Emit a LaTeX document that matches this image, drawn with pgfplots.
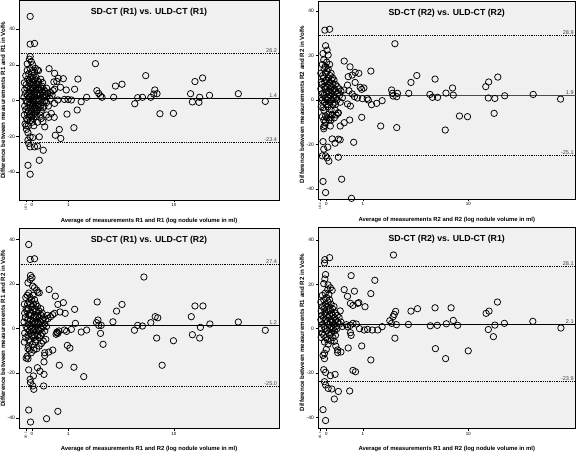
\documentclass[border=0pt]{standalone}
\usepackage{pgfplots}
\pgfplotsset{compat=1.18}
\usepackage{graphicx}
\usepackage{fontspec}
\setmainfont{Liberation Sans}
\definecolor{bgc}{HTML}{F0F0F0}
\definecolor{lblc}{HTML}{404040}
\pgfplotsset{
 ba/.style={
  scale only axis,
  axis background/.style={fill=bgc},
  axis line style={line width=0.8bp, black},
  tick style={line width=0.5bp, black},
  tick align=outside,
  major tick length=2.5bp,
  tick pos=left,
  xtick={-0.17,0,1,3.895},
  xticklabels={\rotatebox{90}{\fontsize{3.2}{4}\selectfont 1E-1},0,1,10},
  ytick={-40,-20,0,20,40},
  yticklabels={-40,-20,0,20,40},
  xticklabel style={font=\fontsize{4.5}{5}\selectfont, inner sep=1bp, anchor=north},
  yticklabel style={font=\fontsize{5}{6}\selectfont, inner sep=1.5bp},
  every axis x label/.style={at={(axis description cs:0.5,0)}, anchor=center, yshift=-21bp, font=\bfseries\fontsize{5.9}{7}\selectfont},
  every axis y label/.style={at={(axis description cs:0,0.5)}, anchor=center, xshift=-16bp, rotate=90, font=\bfseries\fontsize{6.2}{7}\selectfont},
  every axis title/.style={at={(axis description cs:0.5,1)}, anchor=center, yshift=-12bp, font=\bfseries\fontsize{8.8}{10}\selectfont, inner sep=0pt},
 },
 mk/.style={only marks, mark=o, mark size=3.2bp, mark options={line width=0.75bp, black}},
 loa/.style={black, line width=0.8bp, densely dotted, no marks},
 mean/.style={black, line width=1bp, no marks},
}
\newcommand{\lbl}[3]{\node[anchor=south east, font=\fontsize{5.5}{6}\selectfont, text=lblc, inner sep=0.6bp] at (axis cs:#1,#2) {#3};}
\begin{document}
\begin{tikzpicture}[x=1bp,y=1bp]
\path[use as bounding box] (0bp,0bp) rectangle (576bp,454bp);
% ---------------- Panel 1 ----------------
\begin{axis}[ba, at={(19bp,254bp)}, anchor=south west, width=260bp, height=199.5bp,
  xmin=-0.356, xmax=6.776, ymin=-55.5, ymax=56,
  title={SD-CT (R1) vs. ULD-CT (R1)},
  xlabel={Average of measurements R1 and R1 (log nodule volume in ml)},
  ylabel={Difference between measurements R1 and R1 in Vol\%}]
\addplot[loa] coordinates {(-1,26.2)(8,26.2)};
\addplot[mean] coordinates {(-1,1.4)(8,1.4)};
\addplot[loa] coordinates {(-1,-23.4)(8,-23.4)};
\addplot[mk] coordinates {
(-0.21,10)(-0.20,6)(-0.22,2)(-0.20,-3)(-0.21,-8)(-0.19,-13)
(-0.17,14)(-0.16,9)(-0.18,4)(-0.16,0)(-0.17,-5)(-0.15,-10)(-0.16,-14)
(-0.13,17)(-0.12,12)(-0.14,7)(-0.12,3)(-0.13,-1)(-0.11,-4)(-0.13,-7)(-0.12,-11)
(-0.09,15)(-0.08,11)(-0.10,8)(-0.08,5)(-0.09,1)(-0.07,-2)(-0.09,-6)(-0.08,-9)(-0.10,-14)
(-0.05,18)(-0.04,13)(-0.06,10)(-0.04,7)(-0.05,4)(-0.03,2)(-0.05,-1)(-0.04,-4)(-0.06,-8)(-0.04,-11)
(-0.01,16)(0.00,12)(-0.02,9)(0.01,6)(-0.01,3)(0.00,0)(0.01,-3)(-0.01,-6)(0.00,-9)(0.01,-12)
(0.03,14)(0.04,10)(0.03,7)(0.05,4)(0.03,1)(0.04,-2)(0.05,-5)(0.03,-8)(0.04,-10)
(0.07,16)(0.08,12)(0.07,8)(0.09,5)(0.08,2)(0.07,-1)(0.09,-4)(0.08,-7)
(0.11,13)(0.12,9)(0.11,6)(0.13,3)(0.12,0)(0.11,-3)(0.13,-6)(0.12,-9)
(0.15,11)(0.16,7)(0.15,4)(0.17,1)(0.16,-2)(0.15,-5)
(0.19,9)(0.20,6)(0.21,3)(0.19,0)(0.20,-4)(0.22,-8)
(0.24,12)(0.25,7)(0.23,4)(0.26,1)(0.24,-3)(0.25,-6)
(0.28,8)(0.29,5)(0.30,2)(0.28,-1)(0.31,-4)
(0.33,6)(0.34,3)(0.35,0)(0.33,-3)
(0.38,5)(0.39,2)(0.40,-1)(0.42,4)
(-0.05,47.1)(-0.05,31.6)(0.07,32.0)(-0.05,24.7)(-0.07,23.2)(-0.02,21.9)(-0.13,20.6)(0.02,20.0)(0.09,18.1)(0.15,17.2)(0.18,16.8)
(0.47,17.9)(0.62,15.3)(0.72,12.5)(0.86,12.3)(0.68,10.8)(0.60,10.5)(1.26,12.1)(1.74,20.7)(0.29,10.1)(0.18,10.7)
(0.78,7.5)(0.94,6.0)(1.17,6.4)(0.62,6.4)(0.58,5.6)(0.51,4.5)(0.44,4.1)
(1.78,5.6)(1.83,4.1)(1.88,2.6)(1.92,1.9)(2.24,1.9)(1.50,1.9)(1.35,-0.6)(1.24,-5.2)(1.15,-15.1)(0.96,-7.5)(0.75,-16.1)(0.79,-21.1)(0.64,-19.3)(0.61,-9.3)(0.35,-14.6)(0.30,-11.8)(0.46,-9.3)(0.53,-7.1)(0.62,-1.5)(0.71,0.4)(0.89,0.7)(0.99,0.7)(1.08,0.4)
(-0.11,-17.9)(-0.05,-20.2)(-0.11,-22.0)(-0.09,-23.9)(0.02,-20.6)(0.20,-20.2)(0.07,-25.8)(-0.05,-25.8)(0.15,-25.4)(0.31,-27.7)(0.20,-33.3)(-0.11,-36.1)(-0.05,-41.1)
(0.25,-10)(0.15,-12)(-0.15,-16)(0.05,-14)(0.40,-8)(0.45,-3)(0.50,1)(0.55,3)(0.40,7)
(2.29,8.2)(2.47,9.2)(2.82,-1.7)(2.90,1.7)(3.03,1.9)(3.12,14.0)(3.26,1.9)(3.37,6.0)(3.34,3.7)(3.43,3.9)(3.51,-7.3)(3.88,-7.1)
(4.35,3.9)(4.40,-0.7)(4.47,10.7)(4.58,-0.9)(4.60,1.9)(4.68,12.7)(4.87,3.0)(5.66,3.9)(6.40,-0.4)
};
\lbl{6.74}{26.2}{26.2}
\lbl{6.74}{1.4}{1.4}
\lbl{6.74}{-23.4}{-23.4}
\end{axis}
% ---------------- Panel 2 ----------------
\begin{axis}[ba, at={(318bp,255bp)}, anchor=south west, width=257.5bp, height=198bp,
  xmin=-0.228, xmax=6.83, ymin=-44.5, ymax=44.5,
  every axis y label/.append style={xshift=-4.5bp},
  title={SD-CT (R2) vs. ULD-CT (R2)},
  xlabel={Average of measurements R2 and R2 (log nodule volume in ml)},
  ylabel={Difference between measurements R2 and R2 in Vol\%}]
\addplot[loa] coordinates {(-1,28.9)(8,28.9)};
\addplot[mean, black!70] coordinates {(-1,1.9)(8,1.9)};
\addplot[loa] coordinates {(-1,-25.1)(8,-25.1)};
\addplot[mk] coordinates {
(-0.15,12)(-0.14,8)(-0.15,5)(-0.13,1)(-0.14,-3)
(-0.11,16)(-0.10,11)(-0.12,7)(-0.10,3)(-0.11,0)
(-0.07,18)(-0.06,14)(-0.08,10)(-0.06,6)(-0.07,2)(-0.05,-1)(-0.07,-9)
(-0.03,15)(-0.02,12)(-0.04,8)(-0.02,5)(-0.03,1)(-0.01,-2)(-0.03,-10)
(0.01,17)(0.02,13)(0.00,9)(0.02,6)(0.01,3)(0.03,0)(0.02,-8)
(0.05,14)(0.06,10)(0.05,7)(0.07,4)(0.06,1)(0.05,-2)(0.07,-9)
(0.09,16)(0.10,11)(0.09,8)(0.11,5)(0.10,2)(0.09,-1)(0.10,-8)
(0.13,12)(0.14,9)(0.13,6)(0.15,3)(0.14,0)(0.13,-9)
(0.17,10)(0.18,7)(0.17,4)(0.19,1)(0.18,-2)
(0.21,9)(0.22,5)(0.21,2)(0.23,-1)(0.22,-8)
(0.25,7)(0.26,4)(0.27,1)(0.25,-2)
(0.30,6)(0.31,3)(0.29,0)(0.32,-6)
(0.35,5)(0.36,2)(0.38,-1)(0.40,4)(0.44,1)
(-0.04,31.4)(0.09,31.8)(-0.02,24.4)(0.02,22.4)(-0.09,20.9)(0.05,20.2)(0.49,17.5)(1.22,13.0)(1.88,25.3)
(0.65,14.9)(0.79,12.4)(0.89,12.0)(0.71,11.2)(0.60,10.5)(0.79,7.9)(1.03,5.4)(0.93,5.7)(0.97,4.8)(0.58,6.7)(0.48,4.5)(0.62,4.2)
(0.71,2.7)(0.77,1.5)(0.85,0.9)(0.99,0.6)(1.12,0.7)(1.15,0.0)(1.24,-2.1)(1.38,-1.5)(1.53,-0.3)
(1.81,3.0)(1.79,4.5)(1.83,1.8)(1.93,1.5)(1.95,3.0)
(-0.09,-3.4)(-0.07,-4.5)(-0.11,-7.5)(-0.02,-7.2)(0.07,-6.3)(0.16,-6.7)(0.27,-6.7)(0.33,-5.7)(0.24,-4.5)(0.13,-4.5)(0.05,-3.0)
(0.38,-11.7)(0.49,-10.2)(0.64,-9.0)(0.97,-7.8)(0.66,-2.7)(0.58,-1.8)(-0.07,-12.0)(-0.04,-11.4)(-0.07,-12.9)(0.11,-11.7)
(1.49,-11.7)(1.93,-12.4)(0.16,-17.5)(0.33,-17.6)(0.38,-17.9)(0.24,-19.4)(0.04,-21.2)(-0.09,-18.7)(0.75,-19.0)(-0.07,-22.1)
(-0.02,-25.1)(-0.11,-25.1)(0.02,-26.0)(0.07,-27.5)(0.33,-25.7)(-0.09,-36.6)(0.42,-35.6)(-0.02,-41.6)(0.69,-44.2)
(2.26,3.0)(2.32,7.9)(2.48,11.0)(2.84,2.5)(2.91,1.2)(2.98,9.4)(3.05,1.2)(3.28,3.1)(3.26,-13.5)(3.46,5.4)(3.48,2.2)(3.65,-7.2)(3.87,-7.5)
(4.37,6.0)(4.45,8.1)(4.44,0.9)(4.62,0.7)(4.60,-6.0)(4.70,10.3)(4.89,1.9)(5.67,2.5)(6.42,0.4)
};
\lbl{6.80}{28.9}{28.9}
\lbl{6.80}{1.9}{1.9}
\lbl{6.80}{-25.1}{-25.1}
\end{axis}
% ---------------- Panel 3 ----------------
\begin{axis}[ba, at={(19bp,25.5bp)}, anchor=south west, width=260bp, height=200.5bp,
  xmin=-0.356, xmax=6.776, ymin=-44.8, ymax=45.2,
  every axis x label/.append style={yshift=1bp},
  title={SD-CT (R1) vs. ULD-CT (R2)},
  xlabel={Average of measurements R1 and R2 (log nodule volume in ml)},
  ylabel={Difference between measurements R1 and R2 in Vol\%}]
\addplot[loa] coordinates {(-1,29.0)(8,29.0)};
\addplot[mean] coordinates {(-1,1.6)(8,1.6)};
\addplot[loa] coordinates {(-1,-25.8)(8,-25.8)};
\addplot[mk] coordinates {
(-0.21,11)(-0.20,7)(-0.22,3)(-0.20,-2)(-0.21,-6)
(-0.17,14)(-0.16,9)(-0.18,5)(-0.16,1)(-0.17,-4)
(-0.13,15)(-0.12,11)(-0.14,8)(-0.12,4)(-0.13,0)(-0.11,-3)
(-0.09,16)(-0.08,12)(-0.10,9)(-0.08,6)(-0.09,2)(-0.07,-1)(-0.09,-5)
(-0.05,14)(-0.04,11)(-0.06,7)(-0.04,4)(-0.05,1)(-0.03,-2)(-0.05,-6)
(-0.01,13)(0.00,10)(-0.02,6)(0.01,3)(-0.01,0)(0.00,-3)(0.01,-7)
(0.03,15)(0.04,11)(0.03,8)(0.05,5)(0.03,2)(0.04,-1)(0.05,-4)
(0.07,13)(0.08,9)(0.07,6)(0.09,3)(0.08,0)(0.07,-3)(0.09,-6)
(0.11,11)(0.12,8)(0.11,5)(0.13,2)(0.12,-1)(0.11,-5)
(0.15,10)(0.16,6)(0.15,3)(0.17,0)(0.16,-3)
(0.19,8)(0.20,5)(0.21,2)(0.19,-1)(0.20,-4)
(0.24,9)(0.25,6)(0.23,3)(0.26,0)(0.24,-3)
(0.28,7)(0.29,4)(0.30,1)(0.28,-2)
(0.33,5)(0.34,2)(0.35,-1)
(0.38,4)(0.40,1)(0.42,6)
(-0.09,37.8)(-0.05,31.1)(0.07,31.4)(-0.04,23.9)(0.00,22.9)(-0.05,22.1)(-0.11,20.6)(0.02,19.1)(0.07,18.4)(0.13,17.3)(0.16,16.4)(0.20,16.1)
(0.47,17.6)(0.64,14.6)(0.86,11.7)(0.71,10.9)(0.77,7.5)(0.62,6.9)(0.57,6.3)(0.51,5.4)(0.44,4.5)(1.17,8.7)(1.79,12.0)(0.91,6.9)
(1.77,2.7)(1.81,3.9)(1.83,1.5)(1.90,1.5)(1.88,-2.1)(1.95,-7.0)(2.22,3.1)(1.50,-0.6)(1.35,-1.5)(1.19,2.4)(1.08,-0.3)(0.95,-1.2)(0.89,-0.6)
(0.69,-1.5)(0.71,-2.1)(0.68,-1.8)(0.74,-1.0)(0.66,-2.5)(0.97,-7.5)(1.04,-8.7)(0.75,-16.4)(1.15,-17.3)(1.42,-21.5)
(-0.09,-7.8)(-0.11,-9.0)(-0.07,-9.6)(-0.13,-12.3)(-0.11,-13.5)(-0.16,-13.2)(-0.02,-10.8)(0.05,-9.6)(0.13,-9.0)(0.20,-7.8)(0.26,-6.6)(0.31,-5.5)(0.38,-4.8)
(0.46,-10.5)(0.57,-9.6)(0.35,-10.8)(0.35,-12.0)(0.33,-14.9)(0.15,-17.5)(0.22,-19.1)(0.33,-20.5)(-0.09,-18.5)(0.04,-21.2)(-0.05,-22.7)(-0.04,-24.2)(0.02,-25.7)(0.05,-27.2)(0.32,-25.7)
(-0.09,-36.5)(-0.04,-41.9)(0.40,-40.4)(0.71,-37.1)
(2.32,7.9)(2.47,10.9)(2.81,-0.7)(2.90,1.5)(3.03,1.2)(3.07,23.2)(3.26,2.7)(3.38,5.4)(3.45,4.9)(3.42,-4.2)(3.57,-16.4)(3.88,-5.4)
(4.37,5.4)(4.40,-2.7)(4.47,10.2)(4.60,-4.2)(4.62,0.6)(4.69,10.2)(4.88,2.1)(5.66,3.0)(6.40,-0.7)
};
\lbl{6.74}{29.0}{27.4}
\lbl{6.74}{1.6}{1.2}
\lbl{6.74}{-25.8}{-25.0}
\end{axis}
% ---------------- Panel 4 ----------------
\begin{axis}[ba, at={(318bp,25.5bp)}, anchor=south west, width=257.5bp, height=201bp,
  xmin=-0.228, xmax=6.83, ymin=-45, ymax=45.6,
  every axis y label/.append style={xshift=-4.5bp},
  every axis x label/.append style={yshift=1bp},
  title={SD-CT (R2) vs. ULD-CT (R1)},
  xlabel={Average of measurements R1 and R2 (log nodule volume in ml)},
  ylabel={Difference between measurements R1 and R2 in Vol\%}]
\addplot[loa] coordinates {(-1,28.1)(8,28.1)};
\addplot[mean] coordinates {(-1,2.1)(8,2.1)};
\addplot[loa] coordinates {(-1,-23.9)(8,-23.9)};
\addplot[mk] coordinates {
(-0.15,12)(-0.14,8)(-0.15,4)(-0.13,0)(-0.14,-4)
(-0.11,15)(-0.10,10)(-0.12,6)(-0.10,2)(-0.11,-2)
(-0.07,13)(-0.06,9)(-0.08,5)(-0.06,1)(-0.07,-3)(-0.05,-6)
(-0.03,16)(-0.02,11)(-0.04,7)(-0.02,4)(-0.03,0)(-0.01,-4)
(0.01,14)(0.02,10)(0.00,6)(0.02,3)(0.01,-1)(0.03,-5)
(0.05,12)(0.06,8)(0.05,5)(0.07,2)(0.06,-2)
(0.09,13)(0.10,9)(0.09,6)(0.11,3)(0.10,0)(0.09,-3)
(0.13,11)(0.14,7)(0.13,4)(0.15,1)(0.14,-2)
(0.17,9)(0.18,6)(0.17,3)(0.19,0)(0.18,-4)
(0.21,10)(0.22,5)(0.21,2)(0.23,-1)
(0.25,7)(0.26,4)(0.27,1)(0.25,-3)
(0.30,6)(0.31,3)(0.29,0)
(0.35,5)(0.36,2)(0.38,8)(0.40,3)(0.44,1)
(-0.04,31.1)(0.09,32.0)(-0.05,29.6)(1.84,33.2)(-0.02,24.4)(-0.04,22.4)(-0.07,20.3)(0.05,19.7)(0.11,18.4)(0.04,17.6)(0.16,17.3)(0.07,15.4)
(0.68,23.9)(1.33,21.8)(0.49,17.6)(0.77,16.9)(0.58,14.6)(0.66,11.4)(0.73,10.5)(0.86,11.4)(0.89,11.7)(1.06,9.9)(1.22,15.8)
(1.90,7.8)(1.86,6.4)(1.83,5.4)(1.74,3.6)(1.79,2.4)(1.92,1.8)(2.25,1.9)(1.53,0.9)(1.41,-0.6)(1.26,-0.6)(1.13,-0.3)(1.04,-0.6)(0.91,0.0)
(0.82,2.1)(0.73,2.4)(0.66,1.5)(0.55,1.8)(0.58,0.9)(1.88,-4.3)(0.97,-7.8)(0.66,-1.8)(0.68,-3.0)(0.60,-8.7)(0.40,-10.5)(0.31,-9.6)(0.26,-7.8)
(0.22,-5.7)(0.13,-5.5)(0.05,-7.0)(0.00,-9.3)(-0.05,-11.1)(-0.09,-12.0)(-0.05,-13.5)(0.31,-10.8)(1.22,-14.1)(0.73,-18.8)(0.80,-19.4)
(-0.07,-18.5)(-0.02,-19.7)(0.11,-21.2)(0.24,-20.6)(-0.05,-23.9)(-0.02,-25.4)(0.05,-26.9)(0.15,-27.2)(0.33,-28.3)(0.64,-28.1)(0.22,-31.7)(-0.09,-36.5)(-0.02,-41.4)
(2.32,7.9)(2.50,9.0)(2.85,1.3)(2.98,9.4)(2.99,-9.0)(3.04,1.5)(3.27,-13.5)(3.29,2.2)(3.42,9.4)(3.48,3.7)(3.60,1.5)(3.89,-10.0)
(4.38,6.9)(4.46,7.9)(4.44,-0.4)(4.58,-3.6)(4.62,1.6)(4.69,12.0)(4.88,2.4)(5.66,3.3)(6.43,0.3)
};
\lbl{6.80}{28.1}{28.1}
\lbl{6.80}{2.1}{2.1}
\lbl{6.80}{-23.9}{-23.9}
\end{axis}
\end{tikzpicture}
\end{document}
